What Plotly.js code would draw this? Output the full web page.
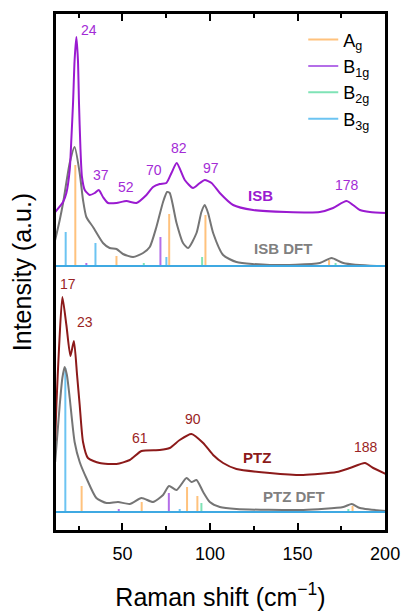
<!DOCTYPE html>
<html>
<head>
<meta charset="utf-8">
<script src="https://cdn.plot.ly/plotly-3.0.1.min.js"></script>
<style>html,body{margin:0;padding:0;background:#fff;}#chart{width:405px;height:611px;}</style>
</head>
<body>
<div id="chart"></div>
<script>
// ---------- data (Raman shift in cm-1, intensity in arbitrary units with stacked offsets) ----------
var isbX = [11.6,16.1,18.0,19.9,20.9,21.8,22.7,23.7,24.6,25.2,26.0,26.9,28.5,31.3,34.2,36.5,38.9,41.8,46.6,52.3,58.0,63.7,67.5,71.3,75.1,78.0,81.0,85.6,90.3,94.2,97.0,100.9,105.6,113.2,124.6,143.7,162.7,170.3,178.0,185.6,191.3,200.5];
var isbY = [319,329,338,361,394,428,471,494,471,428,384,354,341,336,338,341,334,328,328,330,328,336,344,347,348,358,368,351,343,348,351,348,338,326,321,319,319,323,330,321,319,318];

var isbDftX = [11.6,14.2,16.1,19.9,22.7,25.6,27.5,29.4,33.2,38.9,42.7,46.6,50.3,56.1,61.8,65.6,69.4,73.2,75.5,77.0,80.9,84.6,87.5,92.3,95.1,97.0,98.9,101.8,107.5,115.1,134.2,162.7,169.4,176.1,195.1,200.5];
var isbDftY = [291,311,328,368,384,358,331,314,304,288,283,282,277,274,278,284,304,329,339,338,308,288,283,298,319,326,318,298,276,269,266,268,273,268,265,265];

var ptzX = [11.6,12.3,13.8,15.7,18.0,20.3,22.3,24.1,25.6,27.5,30.3,37.0,46.6,54.2,60.9,71.3,77.0,82.7,89.4,96.1,101.8,107.5,115.1,134.2,153.2,172.3,179.9,188.5,193.2,200.5];
var ptzY = [90,126,183,234,206,175,190,156,126,89,73,68,67,71,80,81,83,91,97,88,76,68,62,58,56,59,63,68,63,57];

var ptzDftX = [11.6,14.2,15.7,17.0,18.3,19.9,22.7,25.6,29.4,35.1,40.9,47.5,54.2,60.9,67.5,73.2,76.6,80.9,86.6,89.4,92.3,96.1,99.9,105.6,115.1,153.2,176.1,180.9,185.6,200.5];
var ptzDftY = [69,126,153,164,156,133,89,69,53,33,28,29,27,33,29,36,45,41,53,49,51,39,29,24,22,21,24,27,23,20];

var isbBase = 265;
var ptzBase = 19;

// DFT mode positions (cm-1) and stick tops
var agIsbX = [23.1,46.6,76.7,97.4,168.0];   var agIsbTop = [366,275,317,316,271];
var b1gIsbX = [29.4,71.7];                  var b1gIsbTop = [268,294];
var b2gIsbX = [62.2,95.5,171.7];            var b2gIsbTop = [268,274,268];
var b3gIsbX = [17.6,34.6,75.1];             var b3gIsbTop = [299,288,274];

var agPtzX = [26.7,61.0,86.9,92.8,181.4];   var agPtzTop = [45,29,44,35,25];
var b1gPtzX = [47.9,76.5];                  var b1gPtzTop = [22,38];
var b2gPtzX = [95.1,179.0];                 var b2gPtzTop = [28,22];
var b3gPtzX = [17.4,82.7];                  var b3gPtzTop = [163,22];

var modeNames = ['A<sub>g</sub>','B<sub>1g</sub>','B<sub>2g</sub>','B<sub>3g</sub>'];

var peakText = ['24','37','52','70','82','97','178','17','23','61','90','188'];
var peakX    = [31.0,38.0,51.8,68.0,82.5,100.6,178.5,18.7,28.6,60.2,90.3,188.9];
var peakY    = [501,356,344,361,383,363,346,247,209,93,112,84];

var nameText = ['ISB','ISB DFT','PTZ','PTZ DFT'];
var nameX    = [128.9,141.8,126.9,147.9];
var nameY    = [336,283,74,35];

var xTicks = [50,100,150,200];
var xMinor = [25,75,125,175];
var xRange = [11.5,200.5];

// ---------- styles ----------
var cPurple = '#9a1ad0', cPurpleTxt = '#a32bd6';
var cRed = '#8c1a1a', cRedTxt = '#9a2424';
var cGray = '#757575', cGrayTxt = '#808080';
var modeColors = ['#ffc27d','#b46ee8','#7fe3b6','#6cc4f2'];
var baseColor = '#3fa9e2';
var font = 'Arial, "Liberation Sans", sans-serif';

function sticks(xsA, topsA, baseA, xsB, topsB, baseB) {
  var x = [], y = [];
  for (var i = 0; i < xsA.length; i++) { x.push(xsA[i], xsA[i], null); y.push(baseA, topsA[i], null); }
  for (var j = 0; j < xsB.length; j++) { x.push(xsB[j], xsB[j], null); y.push(baseB, topsB[j], null); }
  return {x: x, y: y};
}

var traces = [];
function curve(x, y, color) {
  traces.push({x: x, y: y, type: 'scatter', mode: 'lines', showlegend: false, hoverinfo: 'skip',
    line: {color: color, width: 2, shape: 'spline', smoothing: 0.6}});
}

var stickSets = [
  sticks(agIsbX, agIsbTop, isbBase, agPtzX, agPtzTop, ptzBase),
  sticks(b1gIsbX, b1gIsbTop, isbBase, b1gPtzX, b1gPtzTop, ptzBase),
  sticks(b2gIsbX, b2gIsbTop, isbBase, b2gPtzX, b2gPtzTop, ptzBase),
  sticks(b3gIsbX, b3gIsbTop, isbBase, b3gPtzX, b3gPtzTop, ptzBase)
];
for (var k = 0; k < 4; k++) {
  traces.push({x: stickSets[k].x, y: stickSets[k].y, type: 'scatter', mode: 'lines', name: modeNames[k],
    line: {color: modeColors[k], width: 2}, hoverinfo: 'skip'});
}

curve(isbDftX, isbDftY, cGray);
curve(ptzDftX, ptzDftY, cGray);
curve(isbX, isbY, cPurple);
curve(ptzX, ptzY, cRed);

// baselines of the stick spectra
traces.push({x: [xRange[0], xRange[1], null, xRange[0], xRange[1]], y: [isbBase, isbBase, null, ptzBase, ptzBase],
  type: 'scatter', mode: 'lines', showlegend: false, hoverinfo: 'skip', line: {color: baseColor, width: 2}});

var annotations = [];
for (var p = 0; p < peakText.length; p++) {
  annotations.push({x: peakX[p], y: peakY[p], text: peakText[p], showarrow: false, xanchor: 'center', yanchor: 'middle',
    font: {family: font, size: 14, color: p < 7 ? cPurpleTxt : cRedTxt}});
}
var nameColors = [cPurple, cGrayTxt, cRed, cGrayTxt];
for (var n = 0; n < nameText.length; n++) {
  annotations.push({x: nameX[n], y: nameY[n], text: '<b>' + nameText[n] + '</b>', showarrow: false, xanchor: 'center', yanchor: 'middle',
    font: {family: font, size: 15, color: nameColors[n]}});
}

var layout = {
  width: 405, height: 611,
  margin: {l: 55, r: 19, t: 13, b: 80, pad: 0},
  paper_bgcolor: '#fff', plot_bgcolor: '#fff',
  font: {family: font, color: '#000'},
  showlegend: true,
  legend: {x: 0.75, y: 0.984, xanchor: 'left', yanchor: 'top', bgcolor: 'rgba(0,0,0,0)',
    font: {family: font, size: 18, color: '#000'}, tracegroupgap: 0},
  xaxis: {range: xRange, tickmode: 'array', tickvals: xTicks, ticktext: xTicks.map(String),
    ticks: 'inside', ticklen: 8, tickwidth: 2, tickcolor: '#000', ticklabelstandoff: 5,
    minor: {tickmode: 'array', tickvals: xMinor, ticks: 'inside', ticklen: 5, tickwidth: 2, tickcolor: '#000', showgrid: false},
    showline: true, linewidth: 2, linecolor: '#000', mirror: 'ticks', showgrid: false, zeroline: false,
    tickfont: {family: font, size: 18, color: '#000'},
    title: {text: 'Raman shift (cm<sup>\u22121</sup>)', font: {family: font, size: 25, color: '#000'}, standoff: 30},
    automargin: false},
  yaxis: {range: [0, 518], showticklabels: false, ticks: '', showline: true, linewidth: 2, linecolor: '#000', mirror: true,
    showgrid: false, zeroline: false,
    title: {text: 'Intensity (a.u.)', font: {family: font, size: 25, color: '#000'}, standoff: 14},
    automargin: false},
  shapes: [{type: 'rect', xref: 'paper', yref: 'paper', x0: 0, x1: 1, y0: 0, y1: 1,
    line: {color: '#000', width: 2}, fillcolor: 'rgba(0,0,0,0)', layer: 'above'}],
  annotations: annotations
};

Plotly.newPlot('chart', traces, layout, {displayModeBar: false, staticPlot: true});
</script>
</body>
</html>
